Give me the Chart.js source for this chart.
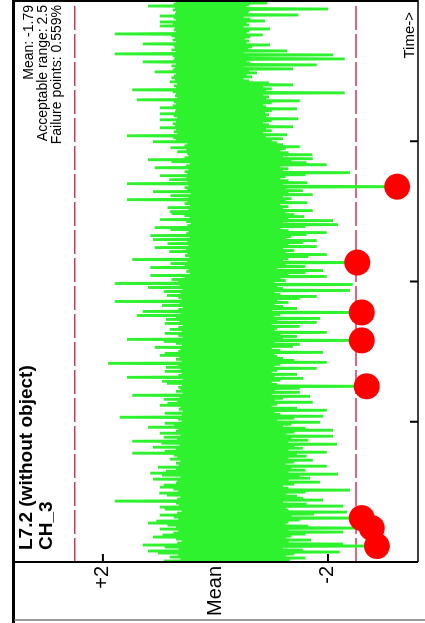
<!DOCTYPE html>
<html>
<head>
<meta charset="utf-8">
<script src="https://cdn.jsdelivr.net/npm/chart.js@4.4.1/dist/chart.umd.min.js"></script>
<style>
  html, body { margin: 0; padding: 0; background: #fff; overflow: hidden; }
  #wrap {
    position: absolute; left: 0; top: 0; width: 623px; height: 425px;
    transform-origin: 0 0; transform: translate(0px, 623px) rotate(-90deg);
  }
</style>
</head>
<body>
<div id="wrap"><canvas id="myChart" width="623" height="425"></canvas></div>
<script>
// deviation from mean, one sample per time step
const signal = [
  -1.3, 0.92, -1.2, 0.62, -1.6, 0.81, -1.25, 0.66, -1.4, 1.02,
  -2.21, 1.2, -1.55, 0.65, -1.2, 0.9, -2.87, 1.29, -2.27, 0.68,
  -1.3, 0.6, -1.7, 0.7, -1.25, 1.11, -1.35, 0.94, -1.6, 0.75,
  -2.27, 0.66, -1.3, 0.99, -2.78, 0.7, -1.65, 0.85, -1.25, 1.2,
  -1.3, 1.05, -1.5, 0.66, -2.6, 0.74, -1.35, 0.99, -1.75, 0.68,
  -2.34, 0.6, -1.3, 0.9, -1.25, 0.99, -2.27, 0.65, -1.62, 0.7,
  -1.2, 1.79, -1.91, 0.68, -1.55, 0.62, -1.45, 0.86, -1.25, 1.0,
  -1.6, 0.66, -2.39, 0.75, -1.3, 0.99, -1.2, 0.92, -1.4, 0.7,
  -1.86, 0.68, -1.3, 1.11, -1.68, 0.62, -1.5, 0.95, -2.18, 1.16,
  -1.3, 0.88, -1.6, 0.7, -1.35, 1.02, -1.98, 0.65, -1.25, 0.7,
  -1.4, 0.62, -1.73, 0.81, -1.3, 0.68, -1.62, 0.74, -1.45, 1.48,
  -1.98, 0.9, -1.3, 0.7, -1.55, 1.11, -1.4, 0.64, -2.16, 0.96,
  -1.3, 1.48, -1.65, 0.68, -1.35, 0.92, -2.09, 0.62, -1.25, 0.99,
  -1.4, 0.7, -2.09, 0.66, -1.6, 1.2, -1.2, 0.74, -1.35, 0.9,
  -1.86, 0.6,
  -1.1, 0.66, -1.4, 1.7, -1.91, 0.6, -1.15, 0.9, -1.05, 0.58,
  -1.98, 0.65, -1.45, 0.62, -1.0, 0.99, -1.1, 0.85, -1.73, 0.68,
  -1.05, 0.92, -1.2, 0.64, -1.68, 1.48, -1.0, 0.58, -1.5, 0.7,
  -1.05, 0.62, -1.5, 0.66, -2.69, 0.6, -1.1, 0.86, -1.0, 0.95,
  -1.15, 0.58, -1.56, 1.57, -1.05, 0.66, -1.45, 0.6, -1.0, 0.9,
  -1.1, 0.62, -1.8, 0.88, -1.05, 0.66, -1.15, 1.91, -1.98, 0.6,
  -1.4, 0.7, -1.2, 0.64, -1.1, 0.99, -1.05, 0.9, -1.91, 0.66,
  -1.15, 0.62, -1.0, 1.08, -1.38, 0.6, -1.5, 0.7, -1.05, 0.92,
  -2.6, 1.57, -1.2, 0.58, -1.45, 0.66, -1.15, 0.9, -1.98, 0.6,
  -1.05, 0.81, -1.1, 0.66, -1.5, 0.58, -1.0, 0.9, -1.8, 0.64,
  -1.1, 0.88, -1.86, 0.7, -1.05, 1.4, -1.15, 0.62, -2.6, 1.29,
  -1.0, 0.66, -1.45, 0.58, -1.2, 0.95, -1.05, 0.64, -1.3, 1.79,
  -1.1, 0.6, -1.5, 0.66, -1.8, 0.86, -1.15, 0.62, -1.05, 0.92,
  -2.39, 0.58, -1.2, 1.2, -1.1, 0.64, -2.44, 1.79, -1.05, 0.66,
  -1.25, 0.78, -1.15, 0.55, -1.98, 1.16, -1.3, 0.45, -1.6, 0.52,
  -1.91, 0.48, -1.1, 1.16, -1.6, 0.55, -1.25, 0.8, -2.52, 0.5,
  -1.2, 1.48, -1.3, 0.46, -1.65, 0.54, -1.98, 0.5, -1.25, 0.82,
  -1.4, 0.52, -1.2, 1.08, -1.8, 0.48, -1.3, 0.85, -1.55, 0.5,
  -1.8, 1.11, -1.25, 0.45, -1.35, 1.16, -1.62, 0.52, -1.98, 0.48,
  -1.3, 0.8, -1.15, 1.08, -1.6, 0.5, -2.18, 0.44, -1.2, 0.52,
  -2.09, 0.99, -1.3, 0.46, -1.58, 0.55, -1.4, 0.78, -1.25, 0.81,
  -1.73, 0.48, -1.2, 0.85, -1.3, 0.45, -1.15, 0.55, -1.63, 0.5,
  -1.25, 1.57, -1.35, 0.48, -1.2, 0.8, -1.73, 0.44, -1.3, 1.11,
  -1.55, 0.5, -1.25, 0.55, -3.23, 0.48, -1.2, 1.57, -1.63, 0.5,
  -1.3, 0.82, -1.15, 0.52, -1.25, 0.99, -1.6, 0.5, -2.39, 0.55,
  -1.2, 0.48, -1.3, 1.08, -1.15, 0.52, -1.98, 0.45, -1.62, 0.78,
  -1.35, 1.2, -1.73, 0.55, -1.2, 0.48, -1.72, 0.5, -1.3, 0.68,
  -1.15, 0.52, -1.25, 0.8, -1.5, 0.55, -1.2, 0.5, -1.1, 1.11,
  -1.0, 0.7, -1.2, 0.75, -0.9, 1.57, -1.27, 0.68, -0.85, 0.74,
  -1.0, 0.7, -0.9, 0.99, -1.38, 0.72, -0.95, 0.76, -0.85, 0.7,
  -1.0, 0.99, -1.47, 0.68, -0.9, 0.74, -0.95, 0.99, -0.88, 0.72,
  -1.0, 0.7, -1.45, 0.99, -0.9, 0.76, -0.85, 0.7, -1.0, 0.74,
  -1.5, 1.4, -0.9, 0.68, -0.95, 0.72, -0.85, 0.7, -2.3, 0.76,
  -0.9, 1.48, -1.0, 0.7, -0.85, 0.74, -1.38, 0.68, -0.95, 0.81,
  -0.6, 0.72, -0.5, 0.78, -0.65, 0.74, -0.55, 0.7, -0.74, 1.08,
  -0.6, 0.76, -1.38, 0.72, -0.5, 0.78, -1.8, 0.7, -0.62, 1.29,
  -0.55, 0.74, -2.3, 0.72, -0.6, 0.76, -2.09, 1.79, -0.5, 0.7,
  -1.27, 0.78, -0.58, 0.72, -0.65, 0.74, -0.97, 1.29, -0.55, 0.7,
  -0.6, 0.76, -0.52, 0.72, -0.62, 0.78, -0.84, 1.79, -0.55, 0.7,
  -0.6, 0.74, -0.97, 0.72, -0.5, 0.99, -0.6, 0.76, -0.55, 0.99,
  -0.88, 0.7, -0.62, 0.74, -0.5, 0.99, -1.47, 0.72, -0.58, 0.7,
  -0.6, 0.76, -2.0, 0.72, -0.55, 1.2, -0.6, 0.74, -0.92, 0.7
];

// samples outside the acceptable range
const failIdx = [16, 34, 44, 176, 222, 250, 300, 376];

const yTicks = [2, 0, -2];
const yTickLabels = ["+2", "Mean", "-2"];
const timeTicks = [140.5, 281, 421.5];
const acceptRange = 2.5;

const titleLines = ["L7.2 (without object)", "CH_3"];
const statsLines = ["Mean: -1.79", "Acceptable range: 2.5", "Failure points: 0.559%"];

const FONT = "'Liberation Sans', Arial, sans-serif";

// range lines, frame, ticks and texts
const overlay = {
  id: "overlay",
  beforeDatasetsDraw(chart) {
    const { ctx, chartArea: a, scales: { y } } = chart;
    ctx.save();
    ctx.strokeStyle = "#d8364f";
    ctx.lineWidth = 1.5;
    ctx.setLineDash([24, 4]);
    [acceptRange, -acceptRange].forEach((v) => {
      const py = y.getPixelForValue(v);
      ctx.beginPath();
      ctx.moveTo(a.left, py);
      ctx.lineTo(a.right, py);
      ctx.stroke();
    });
    ctx.setLineDash([]);
    ctx.strokeStyle = "#000";
    ctx.lineWidth = 2;
    yTicks.forEach((v) => {
      const py = y.getPixelForValue(v);
      ctx.beginPath();
      ctx.moveTo(a.left, py);
      ctx.lineTo(a.left + 8, py);
      ctx.stroke();
    });
    ctx.restore();
  },
  afterDraw(chart) {
    const { ctx, chartArea: a, scales: { x } } = chart;
    ctx.save();
    ctx.strokeStyle = "#000";

    // outer thick line
    ctx.lineWidth = 3;
    ctx.beginPath();
    ctx.moveTo(0, 13.5);
    ctx.lineTo(623, 13.5);
    ctx.stroke();

    // plot box
    ctx.lineWidth = 2;
    ctx.beginPath();
    ctx.moveTo(a.left, a.top);
    ctx.lineTo(a.left, a.bottom);
    ctx.moveTo(a.right, a.top);
    ctx.lineTo(a.right, a.bottom);
    ctx.stroke();
    ctx.lineWidth = 1.5;
    ctx.beginPath();
    ctx.moveTo(a.left, a.bottom);
    ctx.lineTo(623, a.bottom);
    ctx.stroke();

    // gray frame edge
    ctx.strokeStyle = "#777";
    ctx.lineWidth = 1.5;
    ctx.beginPath();
    ctx.moveTo(3, 14);
    ctx.lineTo(3, 425);
    ctx.stroke();

    // time ticks
    ctx.strokeStyle = "#000";
    ctx.lineWidth = 2;
    timeTicks.forEach((t) => {
      const px = x.getPixelForValue(t);
      ctx.beginPath();
      ctx.moveTo(px, a.bottom);
      ctx.lineTo(px, a.bottom - 8);
      ctx.stroke();
    });

    ctx.fillStyle = "#000";
    ctx.textAlign = "left";
    ctx.textBaseline = "alphabetic";
    ctx.font = "bold 19px " + FONT;
    titleLines.forEach((s, k) => ctx.fillText(s, 73, 32 + k * 20));

    ctx.textAlign = "right";
    ctx.font = "14px " + FONT;
    statsLines.forEach((s, k) => ctx.fillText(s, 618, 33 + k * 14));

    ctx.font = "15px " + FONT;
    ctx.fillText("Time->", 611, 414);
    ctx.restore();
  }
};

const ctx = document.getElementById("myChart");
new Chart(ctx, {
  type: "line",
  data: {
    datasets: [
      {
        label: "failures",
        data: failIdx.map((i) => ({ x: i, y: signal[i] })),
        showLine: false,
        pointRadius: 13,
        pointBackgroundColor: "#ff0000",
        pointBorderColor: "#ff0000",
        pointBorderWidth: 0,
        order: 0,
      },
      {
        label: "signal",
        data: signal.map((v, i) => ({ x: i, y: v })),
        borderColor: "#2ef22e",
        borderWidth: 2.8,
        pointRadius: 0,
        tension: 0,
        order: 1,
      },
    ],
  },
  options: {
    responsive: false,
    animation: false,
    devicePixelRatio: 1,
    layout: {
      autoPadding: false,
      padding: { top: 14, right: 1, left: 0, bottom: 0 },
    },
    plugins: {
      legend: { display: false },
      tooltip: { enabled: false },
    },
    scales: {
      x: {
        type: "linear",
        min: 0,
        max: 562,
        grid: { display: false },
        border: { display: false },
        ticks: { display: false },
        afterFit(s) { s.height = 7; s.paddingLeft = 0; s.paddingRight = 0; },
      },
      y: {
        min: -3.6,
        max: 3.58,
        grid: { display: false, drawTicks: false },
        border: { display: false },
        afterBuildTicks(s) { s.ticks = yTicks.map((v) => ({ value: v })); },
        ticks: {
          color: "#000",
          padding: 4,
          font: { family: FONT, size: 20 },
          callback: (v) => yTickLabels[yTicks.indexOf(v)],
        },
        afterFit(s) { s.width = 61; s.paddingTop = 0; s.paddingBottom = 0; },
      },
    },
  },
  plugins: [overlay],
});
</script>
</body>
</html>
